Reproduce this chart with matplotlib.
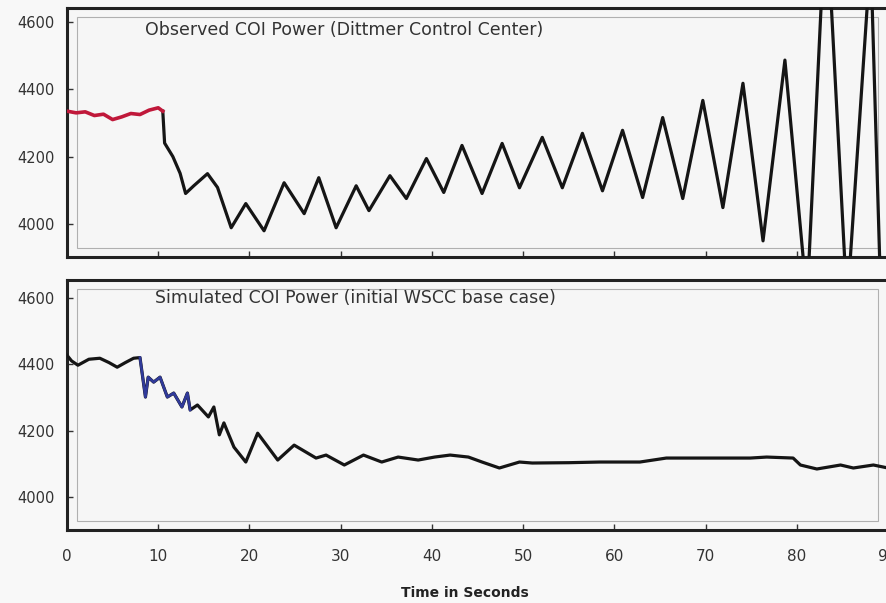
import matplotlib.pyplot as plt
import numpy as np
from matplotlib.patches import Rectangle

# observed COI power (Dittmer), seconds / MW
obs_t = [0, 1, 2, 3, 4, 5, 6, 7, 8, 9, 10, 10.5,
         10.7, 11.6, 12.4, 13.0, 13.9, 15.4, 16.5, 18.0,
         19.6, 21.6, 23.8, 26.0, 27.6, 29.5, 31.7, 33.1, 35.4, 37.2,
         39.4, 41.3, 43.3, 45.5, 47.7, 49.6, 52.1, 54.3, 56.5, 58.7,
         60.9, 63.1, 65.3, 67.5, 69.7, 71.9, 74.1, 76.3, 78.7,
         80.8, 81.3, 83.2, 85.3, 85.8, 88.1, 89.3]
obs_p = [4335, 4330, 4333, 4322, 4326, 4310, 4318, 4328, 4325, 4338, 4345, 4335,
         4240, 4200, 4150, 4090, 4113, 4149, 4108, 3988,
         4060, 3979, 4122, 4030, 4137, 3988, 4113, 4039, 4143, 4075,
         4194, 4093, 4233, 4090, 4239, 4107, 4257, 4107, 4269, 4098,
         4278, 4078, 4316, 4075, 4367, 4048, 4418, 3949, 4487,
         3870, 3870, 4950, 3870, 3870, 4800, 3700]
obs_red_end = 10.5

# simulated COI power (initial WSCC base case)
sim_t = [0, 0.5, 1.2, 2.4, 3.6, 4.6, 5.5, 6.4, 7.3, 8.0,
         8.6, 8.9, 9.5, 10.2, 11.0, 11.7, 12.6, 13.2, 13.5, 14.3,
         15.5, 16.1, 16.7, 17.2, 18.3, 19.6, 20.9, 23.1, 24.9, 27.3,
         28.4, 30.4, 32.5, 34.5, 36.3, 38.5, 40.3, 42.0, 44.0, 45.5,
         47.4, 49.6, 51.0, 55.0, 58.4, 62.8, 65.7, 70.0, 74.9, 76.7,
         79.6, 80.4, 82.2, 84.8, 86.2, 88.4, 90.0]
sim_p = [4427, 4410, 4397, 4415, 4418, 4405, 4391, 4405, 4418, 4420,
         4301, 4361, 4346, 4361, 4301, 4313, 4271, 4313, 4262, 4277,
         4241, 4271, 4187, 4223, 4150, 4105, 4192, 4111, 4156, 4117,
         4126, 4096, 4126, 4105, 4120, 4111, 4120, 4126, 4120, 4105,
         4087, 4105, 4102, 4103, 4105, 4105, 4117, 4117, 4117, 4120,
         4117, 4096, 4084, 4096, 4087, 4096, 4087]
sim_blue = (8.0, 13.5)

y_ticks = [4000, 4200, 4400, 4600]
x_ticks = [0, 10, 20, 30, 40, 50, 60, 70, 80, 90]

BG = "#f6f6f6"
LW = 2.3

fig = plt.figure(figsize=(8.87, 6.03), dpi=100, facecolor="#f8f8f8")
ax_top = fig.add_axes([67 / 887, 1 - 257 / 603, 821 / 887, 249 / 603])
ax_bot = fig.add_axes([67 / 887, 1 - 530 / 603, 821 / 887, 250 / 603])


def style(ax):
    ax.set_facecolor(BG)
    for s in ax.spines.values():
        s.set_linewidth(2.2)
        s.set_color("#222222")
    ax.set_xlim(0, 90)
    ax.set_xticks(x_ticks)
    ax.set_yticks(y_ticks)
    ax.tick_params(direction="in", length=4, width=1, colors="#333333",
                   labelsize=10.5, labelcolor="#333333")
    ax.tick_params(axis="y", pad=9)
    # faint inner frame
    ax.add_patch(Rectangle((0.012, 0.036), 0.976, 0.928, transform=ax.transAxes,
                           fill=False, lw=0.8, ec="#b0b0b0", zorder=1))


t = np.array(obs_t)
p = np.array(obs_p)
red = t <= obs_red_end
style(ax_top)
ax_top.set_ylim(3901, 4642)
ax_top.plot(t[~red | (t == obs_red_end)], p[~red | (t == obs_red_end)],
            color="#151515", lw=LW, zorder=3)
ax_top.plot(t[red], p[red], color="#c0183a", lw=LW + 0.3, zorder=4)
ax_top.tick_params(axis="x", labelbottom=False)
ax_top.text(0.095, 0.91, "Observed COI Power (Dittmer Control Center)",
            transform=ax_top.transAxes, fontsize=12.5, color="#333333",
            ha="left", va="center")

st = np.array(sim_t)
sp = np.array(sim_p)
blue = (st >= sim_blue[0]) & (st <= sim_blue[1])
style(ax_bot)
ax_bot.set_ylim(3900, 4654)
ax_bot.plot(st, sp, color="#151515", lw=LW, zorder=3)
ax_bot.plot(st[blue], sp[blue], color="#303a9a", lw=LW - 0.4, zorder=4)
ax_bot.tick_params(axis="x", pad=14, labelsize=11)
ax_bot.text(0.107, 0.928, "Simulated COI Power (initial WSCC base case)",
            transform=ax_bot.transAxes, fontsize=12.5, color="#333333",
            ha="left", va="center")
fig.text(465 / 887, 1 - 593 / 603, "Time in Seconds", fontsize=10,
         fontweight="bold", color="#222222", ha="center", va="center")

fig.savefig("out.png", dpi=100, facecolor=fig.get_facecolor())
